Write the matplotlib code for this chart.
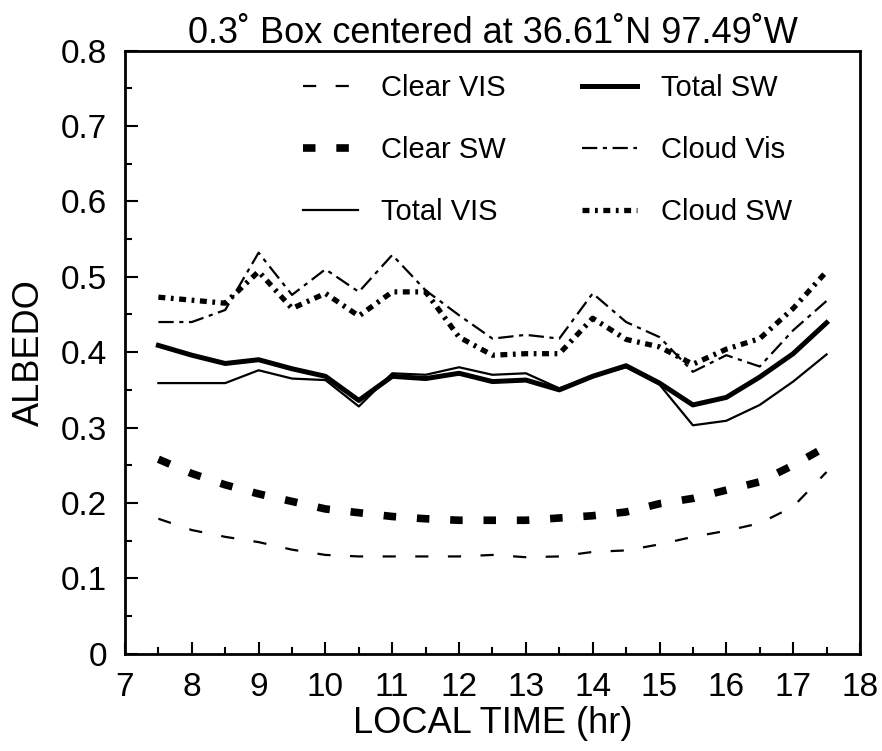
import matplotlib
matplotlib.use("Agg")
import matplotlib.pyplot as plt
from matplotlib.ticker import MultipleLocator, FuncFormatter

plt.rcParams['font.family'] = ['Liberation Sans', 'DejaVu Sans']
plt.rcParams['lines.scale_dashes'] = False

time = [7.5, 8, 8.5, 9, 9.5, 10, 10.5, 11, 11.5, 12, 12.5, 13, 13.5, 14,
        14.5, 15, 15.5, 16, 16.5, 17, 17.5]

clear_vis = [0.179, 0.164, 0.155, 0.148, 0.138, 0.131, 0.129, 0.129, 0.129, 0.129, 0.131,
             0.128, 0.129, 0.135, 0.137, 0.145, 0.155, 0.163, 0.173, 0.195, 0.241]
clear_sw = [0.258, 0.239, 0.224, 0.212, 0.202, 0.192, 0.187, 0.182, 0.179, 0.177, 0.177,
            0.177, 0.180, 0.183, 0.188, 0.199, 0.206, 0.217, 0.228, 0.250, 0.275]
total_vis = [0.359, 0.359, 0.359, 0.376, 0.365, 0.363, 0.328, 0.372, 0.370, 0.380, 0.370,
             0.372, 0.352, 0.368, 0.380, 0.357, 0.303, 0.309, 0.330, 0.361, 0.397]
total_sw = [0.409, 0.396, 0.385, 0.390, 0.378, 0.368, 0.336, 0.368, 0.365, 0.372, 0.361,
            0.363, 0.350, 0.368, 0.382, 0.359, 0.330, 0.340, 0.367, 0.398, 0.439]
cloud_vis = [0.440, 0.440, 0.456, 0.532, 0.476, 0.510, 0.480, 0.529, 0.482, 0.449, 0.418,
             0.423, 0.418, 0.478, 0.440, 0.420, 0.374, 0.396, 0.381, 0.429, 0.468]
cloud_sw = [0.473, 0.469, 0.465, 0.507, 0.458, 0.478, 0.448, 0.480, 0.480, 0.420, 0.396,
            0.398, 0.398, 0.445, 0.417, 0.407, 0.384, 0.404, 0.418, 0.458, 0.507]

title = "0.3˚ Box centered at 36.61˚N 97.49˚W"
xlabel = "LOCAL TIME (hr)"
ylabel = "ALBEDO"

fig = plt.figure(figsize=(8.82, 7.51), dpi=100)
ax = fig.add_axes([0.1417, 0.1296, 0.8333, 0.8029])

ax.plot(time, clear_vis, color='black', lw=1.6, dashes=(9.5, 14), label='Clear VIS')
ax.plot(time, clear_sw, color='black', lw=5.5, dashes=(9, 15), label='Clear SW')
ax.plot(time, total_vis, color='black', lw=1.6, label='Total VIS')
ax.plot(time, total_sw, color='black', lw=3.6, label='Total SW')
ax.plot(time, cloud_vis, color='black', lw=1.6, dashes=(11, 4, 3, 4), label='Cloud Vis')
ax.plot(time, cloud_sw, color='black', lw=3.8, dashes=(5, 4, 2, 4), label='Cloud SW')

ax.set_xlim(7, 18)
ax.set_ylim(0, 0.8)
ax.xaxis.set_major_locator(MultipleLocator(1))
ax.xaxis.set_minor_locator(MultipleLocator(0.5))
ax.yaxis.set_major_locator(MultipleLocator(0.1))
ax.yaxis.set_minor_locator(MultipleLocator(0.05))
ax.yaxis.set_major_formatter(FuncFormatter(lambda v, p: "0" if abs(v) < 1e-9 else f"{v:.1f}"))
ax.tick_params(which='both', direction='in', top=False, right=False, width=1.5, labelsize=24)
ax.tick_params(which='major', length=9, pad=13)
ax.tick_params(which='minor', length=5)
for s in ax.spines.values():
    s.set_linewidth(2)

ax.set_title(title, fontsize=26, pad=5)
ax.set_xlabel(xlabel, fontsize=26, labelpad=2)
ax.set_ylabel(ylabel, fontsize=26, labelpad=10)

h, l = ax.get_legend_handles_labels()
ax.legend(h, l, ncol=2, frameon=False, loc='upper left', bbox_to_anchor=(0.226, 0.981),
          borderaxespad=0, fontsize=21, handlelength=1.9, handletextpad=0.8,
          labelspacing=1.17, columnspacing=2.6)
fig.savefig("out.png", dpi=100)
